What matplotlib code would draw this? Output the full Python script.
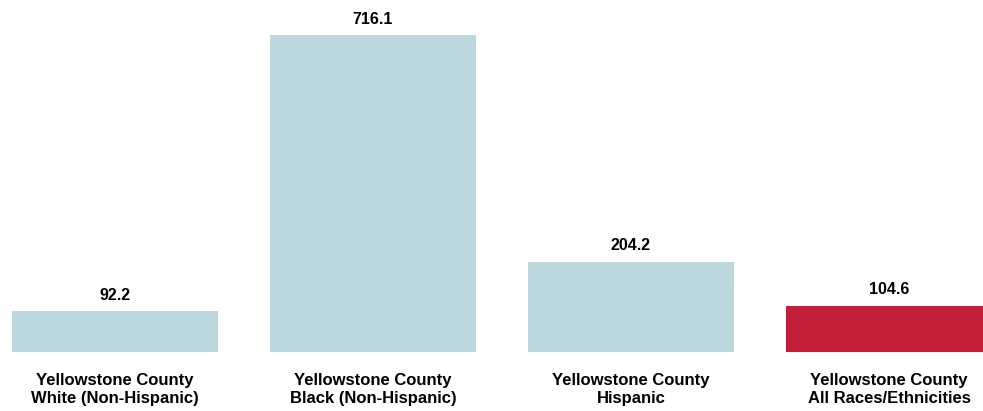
import matplotlib
matplotlib.use('Agg')
import matplotlib.pyplot as plt

# data
groups = ['Yellowstone County\nWhite (Non-Hispanic)',
          'Yellowstone County\nBlack (Non-Hispanic)',
          'Yellowstone County\nHispanic',
          'Yellowstone County\nAll Races/Ethnicities']
rates = [92.2, 716.1, 204.2, 104.6]
colors = ['#BDD7DE', '#BDD7DE', '#BDD7DE', '#C41E3A']

plt.rcParams['font.family'] = ['Liberation Sans Narrow', 'Liberation Sans', 'DejaVu Sans']

fig = plt.figure(figsize=(9.83, 4.11), dpi=100)
ax = fig.add_axes([0, 59 / 411, 1, 352 / 411])

x = list(range(len(rates)))
bars = ax.bar(x, rates, width=0.8, color=colors)
ax.bar_label(bars, labels=[f'{v:.1f}' for v in rates], padding=6,
             fontsize=11.5, fontweight='bold')

ax.set_xlim(-115 / 258, 868 / 258)
ax.set_ylim(0, 716.1 * 352 / 317)
ax.set_xticks(x)
ax.set_xticklabels(groups, fontsize=12, fontweight='bold', linespacing=1.3)
ax.tick_params(axis='x', length=0, pad=15)
ax.set_yticks([])
for s in ax.spines.values():
    s.set_visible(False)

fig.savefig('out.png', dpi=100)
